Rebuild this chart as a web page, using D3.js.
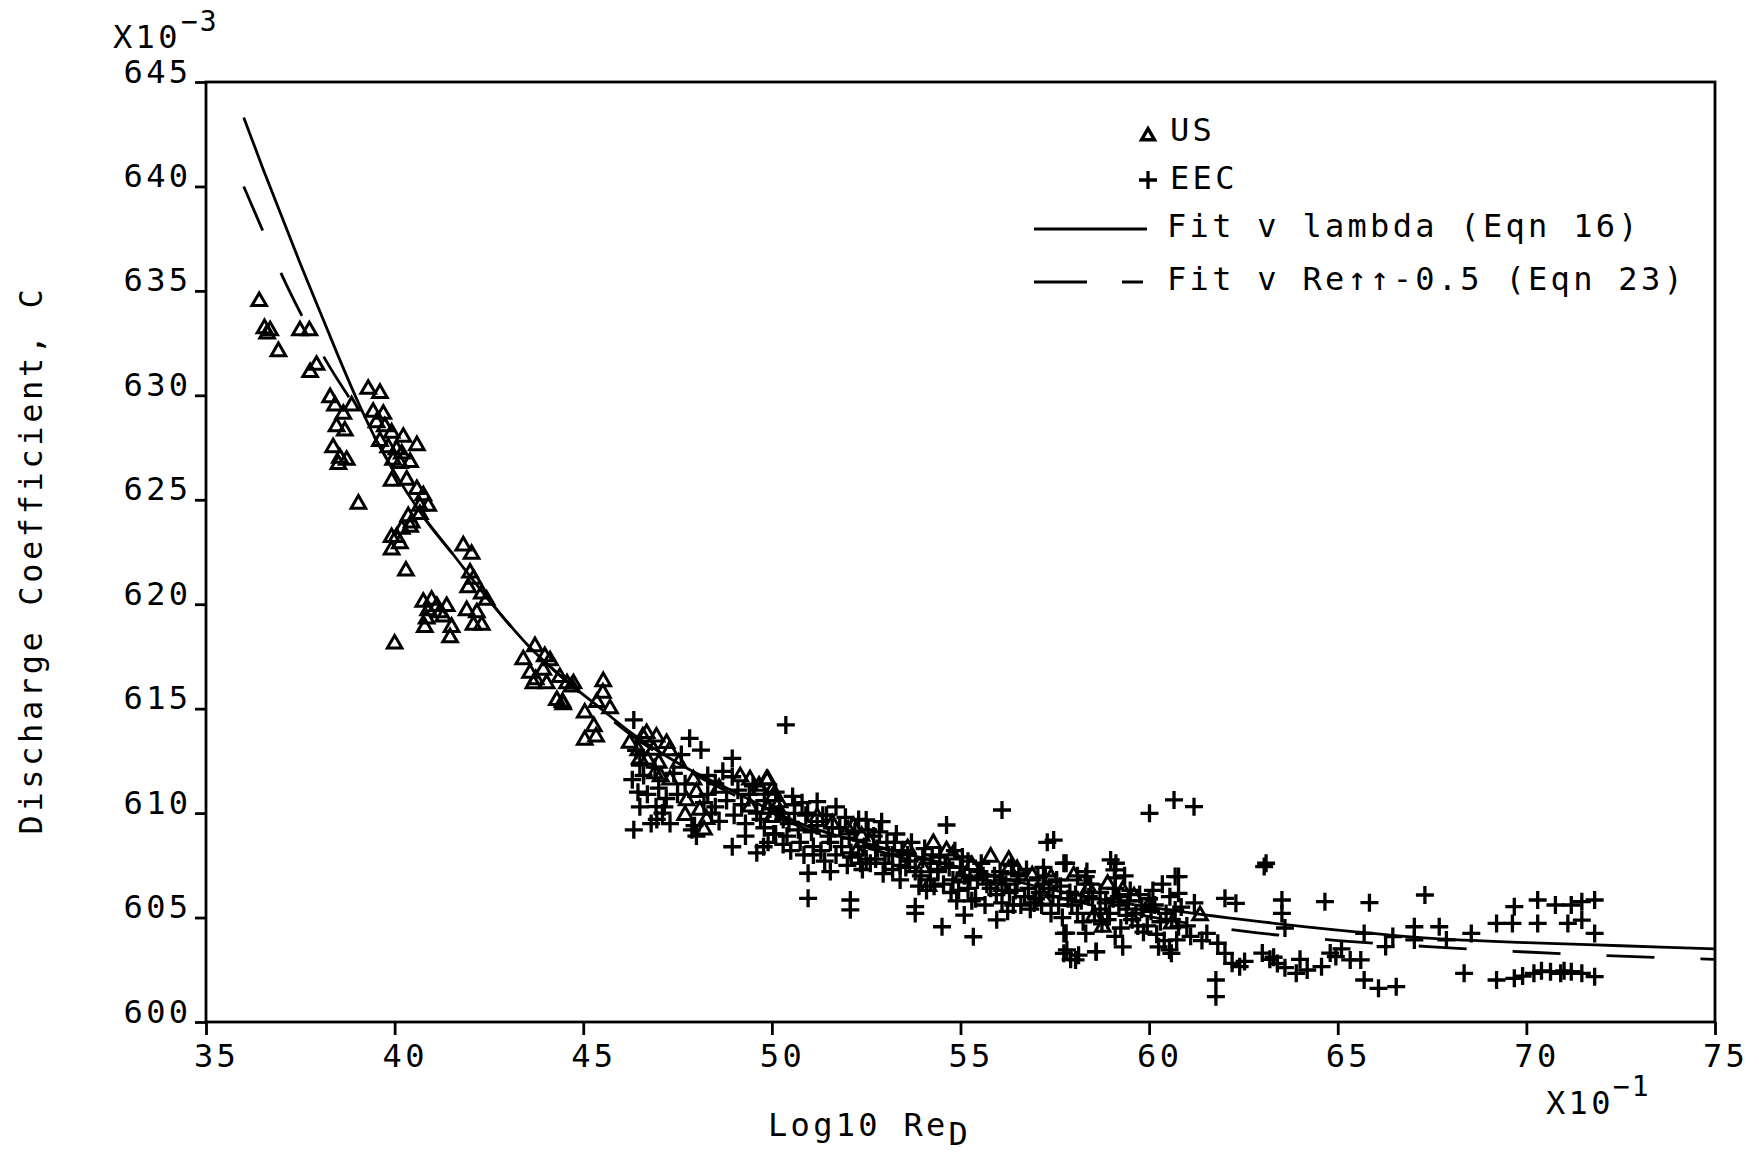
<!DOCTYPE html>
<html>
<head>
<meta charset="utf-8">
<script src="https://cdn.jsdelivr.net/npm/d3@7"></script>
<style>
body { margin: 0; background: #fff; }
svg { display: block; background: #fff; }
text { font-family: "DejaVu Sans Mono", monospace; fill: #000; }
</style>
</head>
<body>
<svg id="dataviz_area" width="1759" height="1153"></svg>
<script>
// tick values (x in units of 10^-1, y in units of 10^-3)
var xTicks = [35, 40, 45, 50, 55, 60, 65, 70, 75];
var yTicks = [600, 605, 610, 615, 620, 625, 630, 635, 640, 645];

var legendLabels = ["US", "EEC", "Fit v lambda (Eqn 16)", "Fit v Re\u2191\u2191-0.5 (Eqn 23)"];

// US data, triangles  [log10 Re, C]
var usPoints = [
  [36.41,634.5],[36.55,633.2],[36.62,632.95],[36.7,633.1],[36.92,632.1],[37.49,633.1],[37.74,633.1],[37.76,631.1],[37.93,631.45],[38.29,629.9],
  [38.42,629.5],[38.64,629.1],[38.86,629.5],[38.46,628.5],[38.68,628.3],[38.37,627.5],[38.55,627.0],[38.73,626.9],[38.51,626.7],[39.04,624.8],
  [39.3,630.3],[39.61,630.1],[39.43,629.2],[39.7,629.1],[39.52,628.7],[39.74,628.5],[39.92,628.2],[40.23,628.0],[40.59,627.6],[39.61,627.8],
  [39.83,627.5],[40.05,627.4],[40.19,627.2],[40.41,626.8],[39.96,626.9],[40.14,626.75],[39.92,625.9],[40.32,625.95],[40.59,625.5],[40.76,625.2],
  [40.67,624.7],[40.89,624.7],[40.67,624.3],[40.36,624.2],[40.45,623.9],[40.19,623.6],[39.92,623.2],[40.05,623.2],[40.14,622.9],[39.92,622.6],
  [40.41,623.7],[40.3,621.6],[40.0,618.1],
  [40.76,620.1],[40.98,620.2],[40.89,619.7],[41.12,619.9],[41.38,619.9],[40.85,619.3],[41.29,619.4],[40.8,618.9],[41.51,618.9],[41.47,618.4],[41.2,619.6],
  [41.82,622.8],[42.04,622.4],[42.0,621.5],[42.09,621.2],[41.95,620.8],[42.31,620.5],[42.44,620.2],[41.91,619.7],[42.18,619.6],[42.09,619.0],[42.31,619.0],
  [43.41,617.35],[43.72,617.98],[43.59,616.7],[43.94,616.85],[44.12,617.3],[43.68,616.2],[44.03,616.2],[44.38,616.5],[44.74,616.2],[44.3,615.4],
  [44.47,615.2],[45.53,616.3],[45.36,615.3],[45.71,615.0],[43.98,617.5],[43.74,616.4],[44.57,616.2],[44.45,615.3],[44.69,616.05],[45.52,615.75],
  [45.04,614.8],[45.28,614.15],[45.04,613.5],[45.34,613.65],
  [46.23,613.35],[46.58,613.65],[46.94,613.65],[46.46,613.0],[47.29,613.0],[46.7,612.55],[47.53,612.4],[47.05,611.75],[46.68,613.82],[47.21,613.34],
  [46.86,613.02],[46.5,612.6],[47.0,612.4],[46.9,611.9],[47.3,611.6],
  [47.74,610.6],[48.0,611.0],[48.09,610.15],[48.27,609.7],[47.92,611.6],[47.7,609.9],[48.2,609.2],[48.6,611.2],
  [49.16,611.75],[49.42,611.6],[49.86,611.6],[49.69,611.1],[50.04,610.8],[49.89,611.6],[49.66,611.3],[50.01,611.1],[49.42,610.3],[50.13,610.3],
  [49.9,610.2],[50.2,610.5],[50.0,609.8],
  [51.2,609.8],[51.6,609.5],[52.16,609.35],[52.02,609.2],[52.38,608.9],[52.26,608.2],[52.6,608.6],
  [53.6,608.3],[54.28,608.55],[54.63,608.2],[54.8,608.0],[55.3,607.5],[55.8,607.9],[56.28,607.75],[56.28,607.3],[56.5,607.3],[56.9,607.0],
  [57.4,606.9],[58.0,607.0],[58.4,606.4],[58.9,606.6],[59.3,606.3],[59.6,606.0],[60.0,605.6],[57.23,605.85],[58.77,604.55],[58.53,605.05],
  [54.15,606.5],[56.1,606.5],[55.0,606.9],[54.0,607.4],[60.6,604.7],[61.35,605.1]
];

// EEC data, crosses  [log10 Re, C]
var eecPoints = [
  [46.34,614.46],[46.4,613.0],[46.5,612.3],[46.3,611.6],[46.45,611.0],[46.5,610.3],[46.34,609.2],[46.95,609.7],[47.1,610.0],[47.3,609.5],
  [47.15,610.3],[46.8,609.5],[46.93,610.31],[47.82,613.58],[48.12,613.02],[47.88,609.2],[48.0,608.9],[47.95,609.4],[48.2,610.5],[48.4,610.0],
  [48.5,611.4],[48.3,611.8],[48.95,612.62],[48.95,611.74],[48.95,608.39],
  [49.4,610.9],[49.6,608.1],[49.78,608.39],[49.3,609.5],[49.6,610.0],[49.8,609.3],[50.1,609.0],[50.3,609.7],[50.37,614.22],[50.6,609.99],
  [50.6,610.4],[50.75,608.6],[50.4,608.9],[50.9,609.9],[51.2,610.55],[50.96,607.12],[51.55,607.2],[50.96,605.92],[51.1,608.4],[51.5,608.9],
  [51.8,609.3],[52.1,608.1],[52.08,605.84],[52.08,605.37],[52.3,609.7],[52.5,609.67],[52.5,607.8],[52.0,607.5],[51.7,608.0],[52.61,607.6],
  [52.91,609.59],[52.8,608.3],[53.0,607.6],[53.2,608.0],[53.4,607.5],[53.6,608.0],[53.8,607.2],[53.8,605.52],[53.8,605.2],[54.0,607.8],
  [54.2,606.8],[54.4,607.3],[54.63,609.43],[54.6,607.6],[54.51,604.56],[54.8,606.8],[55.0,607.4],[55.1,605.12],[55.34,604.08],[55.2,606.4],
  [54.9,605.8],
  [55.5,607.2],[55.7,606.6],[55.9,607.0],[55.96,604.89],[56.1,605.7],[56.1,610.15],[56.3,606.2],[56.5,606.8],[56.6,605.6],[56.8,606.4],
  [57.0,605.9],[57.2,606.6],[57.3,608.6],[57.47,608.71],[57.2,607.4],[57.6,605.6],[57.8,604.25],[57.82,603.45],[57.92,603.0],[58.05,602.97],
  [57.9,606.2],[58.1,605.2],[58.3,606.6],[58.59,603.37],[57.8,607.6],[57.74,607.6],[58.32,606.96],[58.98,607.76],[59.08,607.28],[57.74,604.24],
  [58.32,604.24],[57.74,603.29],[58.13,603.2],[58.6,603.36],
  [58.5,605.9],[58.7,605.4],[58.9,604.9],[59.12,607.6],[59.1,606.9],[59.2,605.6],[59.4,605.1],[59.5,606.3],[59.7,604.6],[59.8,605.4],
  [60.01,609.99],[60.0,605.9],[60.2,604.2],[60.3,604.8],[60.4,603.9],[60.54,603.45],[60.66,610.63],[60.69,606.96],[60.78,606.16],[60.69,605.36],
  [60.78,604.56],[60.73,603.93],[60.59,603.29],[60.78,606.96],[61.19,610.31],[61.0,604.6],[59.1,604.1],[59.3,603.6],
  [61.53,604.24],[61.82,603.77],[62.01,603.29],[62.2,602.81],[62.4,602.65],[62.53,602.9],[61.77,602.01],[61.77,601.21],[62.01,605.92],[62.3,605.68],
  [63.05,607.44],[63.1,607.6],[63.52,605.84],[63.52,605.2],[63.6,604.5],[63.0,603.3],[63.2,603.0],[63.4,602.8],[63.6,602.6],[63.3,603.1],
  [63.9,602.33],[64.19,602.49],[64.57,602.65],[64.95,603.13],[65.33,602.97],[65.61,602.97],[64.66,605.76],[64.0,603.0],
  [65.7,602.01],[66.08,601.61],[66.55,601.69],[65.84,605.71],[65.7,604.24],[66.27,603.61],[66.46,604.09],[67.03,604.56],[67.03,603.93],[67.31,606.08],
  [67.69,604.56],[67.88,603.93],[68.35,602.33],[68.54,604.24],[64.8,603.3],[65.1,603.5],
  [69.21,602.01],[69.68,602.09],[70.2,602.33],[70.64,602.41],[70.91,602.33],[71.19,602.41],[71.47,602.33],[71.81,602.17],[69.9,602.2],[70.4,602.45],
  [71.0,602.45],[69.21,604.72],[69.63,604.72],[70.3,604.72],[71.1,604.72],[71.47,604.88],[71.81,604.24],
  [69.68,605.52],[70.3,605.84],[70.77,605.6],[71.19,605.6],[71.47,605.76],[71.81,605.84],
  // dense band between 50 and 61
  [50.05,609.0],[49.95,610.2],[50.1,611.0],[50.45,609.5],[50.55,610.8],[50.5,608.2],[51.05,609.1],[50.95,610.0],[51.1,608.0],[51.45,609.9],
  [51.55,608.6],[51.4,607.7],[52.05,608.8],[51.95,609.8],[52.1,607.9],[52.45,608.4],[52.55,609.2],[52.4,607.3],[53.05,608.6],[52.95,607.1],
  [53.1,608.0],[53.45,608.2],[53.55,607.4],[53.4,606.8],[54.05,608.3],[53.95,607.0],[54.1,606.3],[54.45,607.9],[54.55,606.6],[54.4,607.2],
  [55.05,607.9],[54.95,606.3],[55.1,607.0],[55.45,606.8],[55.55,607.6],[55.4,605.9],[56.05,607.2],[55.95,606.1],[56.1,606.8],[56.45,606.3],
  [56.55,607.0],[56.4,605.6],[57.05,606.9],[56.95,605.7],[57.1,606.2],[57.45,606.0],[57.55,606.8],[57.4,605.2],[58.05,606.1],[57.95,605.6],
  [58.1,607.0],[58.45,606.6],[58.55,605.2],[58.4,606.0],[59.05,605.9],[58.95,605.2],[59.1,606.4],[59.45,605.8],[59.55,604.9],[59.4,605.4],
  [60.05,605.3],[59.95,604.6],[60.1,606.3],[60.45,605.2],[60.55,606.0],
  [46.6,611.8],[46.7,610.9],[46.9,612.2],[47.0,611.2],[47.2,610.7],[47.4,611.9],[47.5,610.9],[47.6,612.8],[47.7,611.4],[48.3,610.9],
  [48.5,610.3],[48.6,609.6],[48.7,612.0],[48.8,610.6],[49.0,609.9],[49.1,611.1],[49.2,610.4],[49.3,608.9],[49.5,611.3],[49.7,609.7],
  [49.8,610.6],[49.9,608.6],[50.2,610.0],[50.3,608.5],[50.7,609.2],[50.8,610.5],[50.85,608.0],[51.2,609.4],[51.3,608.2],[51.35,609.9],
  [51.6,609.3],[51.7,610.3],[51.85,608.4],[52.2,609.1],[52.3,608.0],[52.35,607.6],[52.7,608.9],[52.75,607.8],[52.85,609.1],[53.2,607.3],
  [53.25,608.6],[53.3,609.0],[53.65,607.7],[53.7,608.6],[53.9,606.5],[54.2,607.6],[54.25,608.0],[54.3,606.5],[54.7,607.4],[54.75,606.2],
  [54.85,608.2],[55.2,607.7],[55.25,606.9],[55.3,605.8],[55.6,607.0],[55.65,605.6],[55.8,606.4],[56.2,606.6],[56.25,605.3],[56.35,607.5],
  [56.7,606.0],[56.75,607.3],[56.85,605.4],[57.15,605.6],[57.25,607.0],[57.35,606.4],[57.65,606.5],[57.7,605.0],[57.85,605.9],[58.2,605.8],
  [58.25,604.8],[58.35,607.2],[58.7,606.2],[58.75,604.7],[58.85,605.7],[59.2,606.0],[59.25,604.5],[59.35,607.0],[59.65,605.2],[59.75,606.1],
  [59.85,604.3],[60.15,605.6],[60.25,603.6],[60.35,606.6],[60.6,604.9],[60.85,605.5],[61.1,604.1],[61.2,605.7],[61.4,603.9]
];

// fit v lambda (Eqn 16), solid
var fitLambda = [
  [36.0,643.3],[36.5,640.9],[37.0,638.6],[37.5,636.3],[38.0,634.1],[38.5,631.9],[39.0,629.8],[39.5,627.9],[40.0,626.3],[40.8,624.1],
  [41.5,622.5],[42.5,620.2],[43.5,618.1],[44.5,616.4],[45.4,615.1],[46.3,613.8],[47.8,612.1],[48.8,611.2],[50.9,609.4],[52.6,608.5],
  [55.0,607.4],[57.5,606.3],[60.0,605.5],[62.5,604.9],[65.0,604.4],[67.5,604.0],[70.0,603.8],[72.5,603.65],[75.0,603.5]
];

// fit v Re^-0.5 (Eqn 23), dashed
var fitRe = [
  [36.0,640.0],[36.5,637.9],[37.0,635.8],[37.6,633.6],[38.2,631.6],[38.9,629.6],[39.5,627.9],[40.0,626.3],[40.8,624.1],[41.5,622.5],
  [42.5,620.2],[43.5,618.1],[44.5,616.4],[45.4,615.0],[46.3,613.7],[47.8,612.0],[48.8,611.05],[50.9,609.25],[52.6,608.3],[55.0,607.1],
  [57.5,606.0],[60.0,605.05],[62.5,604.35],[65.0,603.9],[67.5,603.6],[70.0,603.35],[72.5,603.15],[75.0,603.0]
];

class Display {
    constructor() {
        this.drawChart();
    }

    drawChart() {
        var svg = d3.select("#dataviz_area");
        var left = 206, right = 1715, top = 82, bottom = 1022;
        var fontSize = 32, spacing = 3.3;

        var x = d3.scaleLinear().domain([35, 75]).range([left, right]);
        var y = d3.scaleLinear().domain([600, 645]).range([bottom, top]);

        // frame
        svg.append("rect")
            .attr("x", left).attr("y", top)
            .attr("width", right - left).attr("height", bottom - top)
            .attr("fill", "none").attr("stroke", "#000").attr("stroke-width", 2.8);

        // x axis
        var gx = svg.append("g")
            .attr("transform", "translate(0," + bottom + ")")
            .call(d3.axisBottom(x).tickValues(xTicks).tickSize(13).tickSizeOuter(0).tickFormat(d3.format("d")));
        gx.select(".domain").remove();
        gx.selectAll(".tick line").attr("stroke-width", 2.8);
        gx.selectAll(".tick text")
            .attr("font-family", "DejaVu Sans Mono").attr("font-size", fontSize)
            .attr("letter-spacing", spacing)
            .attr("y", 45).attr("dy", 0).attr("dx", 10);

        // y axis
        var gy = svg.append("g")
            .attr("transform", "translate(" + left + ",0)")
            .call(d3.axisLeft(y).tickValues(yTicks).tickSize(11).tickSizeOuter(0).tickFormat(d3.format("d")));
        gy.select(".domain").remove();
        gy.selectAll(".tick line").attr("stroke-width", 2.8);
        gy.selectAll(".tick text")
            .attr("font-family", "DejaVu Sans Mono").attr("font-size", fontSize)
            .attr("letter-spacing", spacing)
            .attr("x", -18 + spacing).attr("dy", 0);

        // axis titles and multipliers
        svg.append("text")
            .attr("transform", "translate(42,560) rotate(-90)")
            .attr("text-anchor", "middle")
            .attr("font-size", fontSize).attr("letter-spacing", 3.6)
            .text("Discharge Coefficient, C");

        var xt = svg.append("text").attr("x", 768).attr("y", 1136)
            .attr("font-size", fontSize).attr("letter-spacing", spacing);
        xt.append("tspan").text("Log10 Re");
        xt.append("tspan").attr("dy", 9).text("D");

        svg.append("text").attr("x", 113).attr("y", 48)
            .attr("font-size", fontSize).attr("letter-spacing", spacing).text("X10");
        svg.append("text").attr("x", 181).attr("y", 31)
            .attr("font-size", 28).attr("letter-spacing", 2).text("\u22123");
        svg.append("text").attr("x", 1546).attr("y", 1114)
            .attr("font-size", fontSize).attr("letter-spacing", spacing).text("X10");
        svg.append("text").attr("x", 1613).attr("y", 1096)
            .attr("font-size", 28).attr("letter-spacing", 2).text("\u22121");

        // markers
        var triangle = d3.symbol().type(d3.symbolTriangle).size(92);
        var plusPath = "M-9,0H9M0,-9V9";

        svg.append("g")
            .selectAll("path")
            .data(usPoints)
            .enter()
            .append("path")
                .attr("d", triangle)
                .attr("transform", function(d){ return "translate(" + x(d[0]) + "," + y(d[1]) + ")" })
                .attr("fill", "none").attr("stroke", "#000").attr("stroke-width", 3);

        svg.append("g")
            .selectAll("path")
            .data(eecPoints)
            .enter()
            .append("path")
                .attr("d", plusPath)
                .attr("transform", function(d){ return "translate(" + x(d[0]) + "," + y(d[1]) + ")" })
                .attr("fill", "none").attr("stroke", "#000").attr("stroke-width", 3.3);

        // fitted curves
        var line = d3.line()
            .x(function(d){ return x(d[0]) })
            .y(function(d){ return y(d[1]) })
            .curve(d3.curveMonotoneX);

        svg.append("path").datum(fitLambda)
            .attr("d", line)
            .attr("fill", "none").attr("stroke", "#000").attr("stroke-width", 2.8);

        svg.append("path").datum(fitRe)
            .attr("d", line)
            .attr("fill", "none").attr("stroke", "#000").attr("stroke-width", 2.8)
            .attr("stroke-dasharray", "48 46");

        // legend
        var lg = svg.append("g");
        lg.append("path").attr("d", d3.symbol().type(d3.symbolTriangle).size(70))
            .attr("transform", "translate(1148,136)")
            .attr("fill", "none").attr("stroke", "#000").attr("stroke-width", 3.5);
        lg.append("path").attr("d", plusPath)
            .attr("transform", "translate(1148,180)")
            .attr("fill", "none").attr("stroke", "#000").attr("stroke-width", 3.3);
        lg.append("line").attr("x1", 1034).attr("x2", 1147).attr("y1", 229).attr("y2", 229)
            .attr("stroke", "#000").attr("stroke-width", 2.8);
        lg.append("line").attr("x1", 1034).attr("x2", 1143).attr("y1", 282).attr("y2", 282)
            .attr("stroke", "#000").attr("stroke-width", 2.8).attr("stroke-dasharray", "53 35");

        var legendPos = [[1170, 141], [1170, 189], [1167, 237], [1167, 290]];
        lg.selectAll("text")
            .data(legendLabels)
            .enter()
            .append("text")
                .attr("x", function(d, i){ return legendPos[i][0] })
                .attr("y", function(d, i){ return legendPos[i][1] })
                .attr("font-size", fontSize).attr("letter-spacing", spacing)
                .text(function(d){ return d });
    }
}

new Display();
</script>
</body>
</html>
